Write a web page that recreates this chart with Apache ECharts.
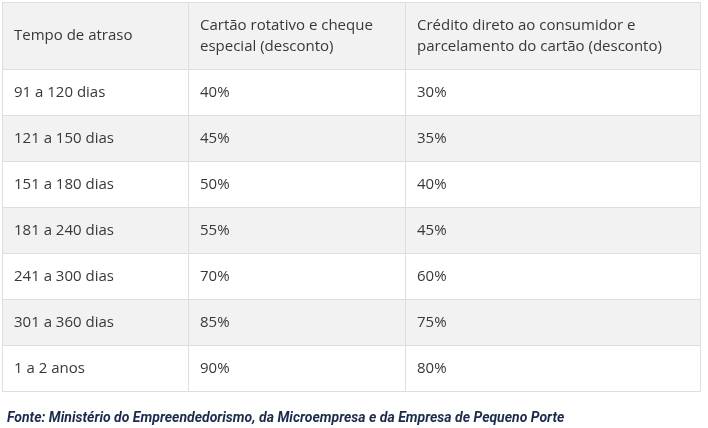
<!DOCTYPE html>
<html>
<head>
<meta charset="utf-8">
<script src="https://cdn.jsdelivr.net/npm/echarts@6/dist/echarts.min.js"></script>
<style>
  html, body { margin: 0; padding: 0; background: #fff; }
  #main { width: 708px; height: 428px; }
</style>
</head>
<body>
<div id="main"></div>
<script>
// cabeçalho das colunas
var headers = ['Tempo de atraso', 'Cartão rotativo e cheque\nespecial (desconto)', 'Crédito direto ao consumidor e\nparcelamento do cartão (desconto)'];
// faixas de atraso
var faixas = ['91 a 120 dias', '121 a 150 dias', '151 a 180 dias', '181 a 240 dias', '241 a 300 dias', '301 a 360 dias', '1 a 2 anos'];
// descontos (%)
var rotativo = [40, 45, 50, 55, 70, 85, 90];
var crediario = [30, 35, 40, 45, 60, 75, 80];
var fonte = 'Fonte: Ministério do Empreendedorismo, da Microempresa e da Empresa de Pequeno Porte';

var myChart = echarts.init(document.getElementById('main'));

// bordas das colunas em fração da largura da tabela
var colEdges = [0, 186 / 698, 403 / 698, 1];
var FONT = '"Open Sans", Lato, sans-serif';

function makeRender(isHeader) {
    return function(params, api) {
        var col = api.value(0);
        var row = api.value(1);
        var txt = api.value(2);
        var cs = params.coordSys;
        var c = api.coord([0, row]);
        var h = api.size([0, 1])[1];
        var x0 = Math.round(cs.x + colEdges[col] * cs.width);
        var x1 = Math.round(cs.x + colEdges[col + 1] * cs.width);
        var y0 = Math.round(c[1] - h / 2);
        var y1 = Math.round(c[1] + h / 2);
        var fill = (isHeader || row % 2 === 1) ? '#f2f2f2' : '#ffffff';
        return {
            type: 'group',
            children: [{
                type: 'rect',
                shape: { x: x0 + 0.5, y: y0 + 0.5, width: x1 - x0, height: y1 - y0 },
                style: { fill: fill, stroke: '#dedede', lineWidth: 1 }
            }, {
                type: 'text',
                x: x0 + 12,
                y: (y0 + y1) / 2 + 0.5,
                style: {
                    text: txt,
                    fill: '#383838',
                    font: '15px ' + FONT,
                    lineHeight: 21,
                    verticalAlign: 'middle',
                    align: 'left'
                }
            }]
        };
    };
}

var headerData = headers.map(function(t, i) { return [i, 0, t]; });
var bodyData = [];
faixas.forEach(function(f, i) {
    bodyData.push([0, i, f]);
    bodyData.push([1, i, rotativo[i] + '%']);
    bodyData.push([2, i, crediario[i] + '%']);
});

var option = {
    backgroundColor: '#ffffff',
    animation: false,
    title: {
        text: fonte,
        left: 2,
        top: 406,
        textStyle: {
            fontFamily: 'Roboto, sans-serif',
            fontSize: 14,
            fontWeight: 'bold',
            fontStyle: 'italic',
            color: '#1c2b4d'
        }
    },
    grid: [
        { left: 2, right: 8, top: 2, height: 67 },
        { left: 2, right: 8, top: 69, height: 322 }
    ],
    xAxis: [
        { gridIndex: 0, type: 'value', min: 0, max: 3, show: false },
        { gridIndex: 1, type: 'value', min: 0, max: 3, show: false }
    ],
    yAxis: [
        { gridIndex: 0, type: 'category', data: ['cabeçalho'], inverse: true, show: false },
        { gridIndex: 1, type: 'category', data: faixas, inverse: true, show: false }
    ],
    series: [{
        type: 'custom',
        xAxisIndex: 0,
        yAxisIndex: 0,
        renderItem: makeRender(true),
        encode: { x: 0, y: 1 },
        data: headerData
    }, {
        type: 'custom',
        xAxisIndex: 1,
        yAxisIndex: 1,
        renderItem: makeRender(false),
        encode: { x: 0, y: 1 },
        data: bodyData
    }]
};
myChart.setOption(option);
</script>
</body>
</html>
